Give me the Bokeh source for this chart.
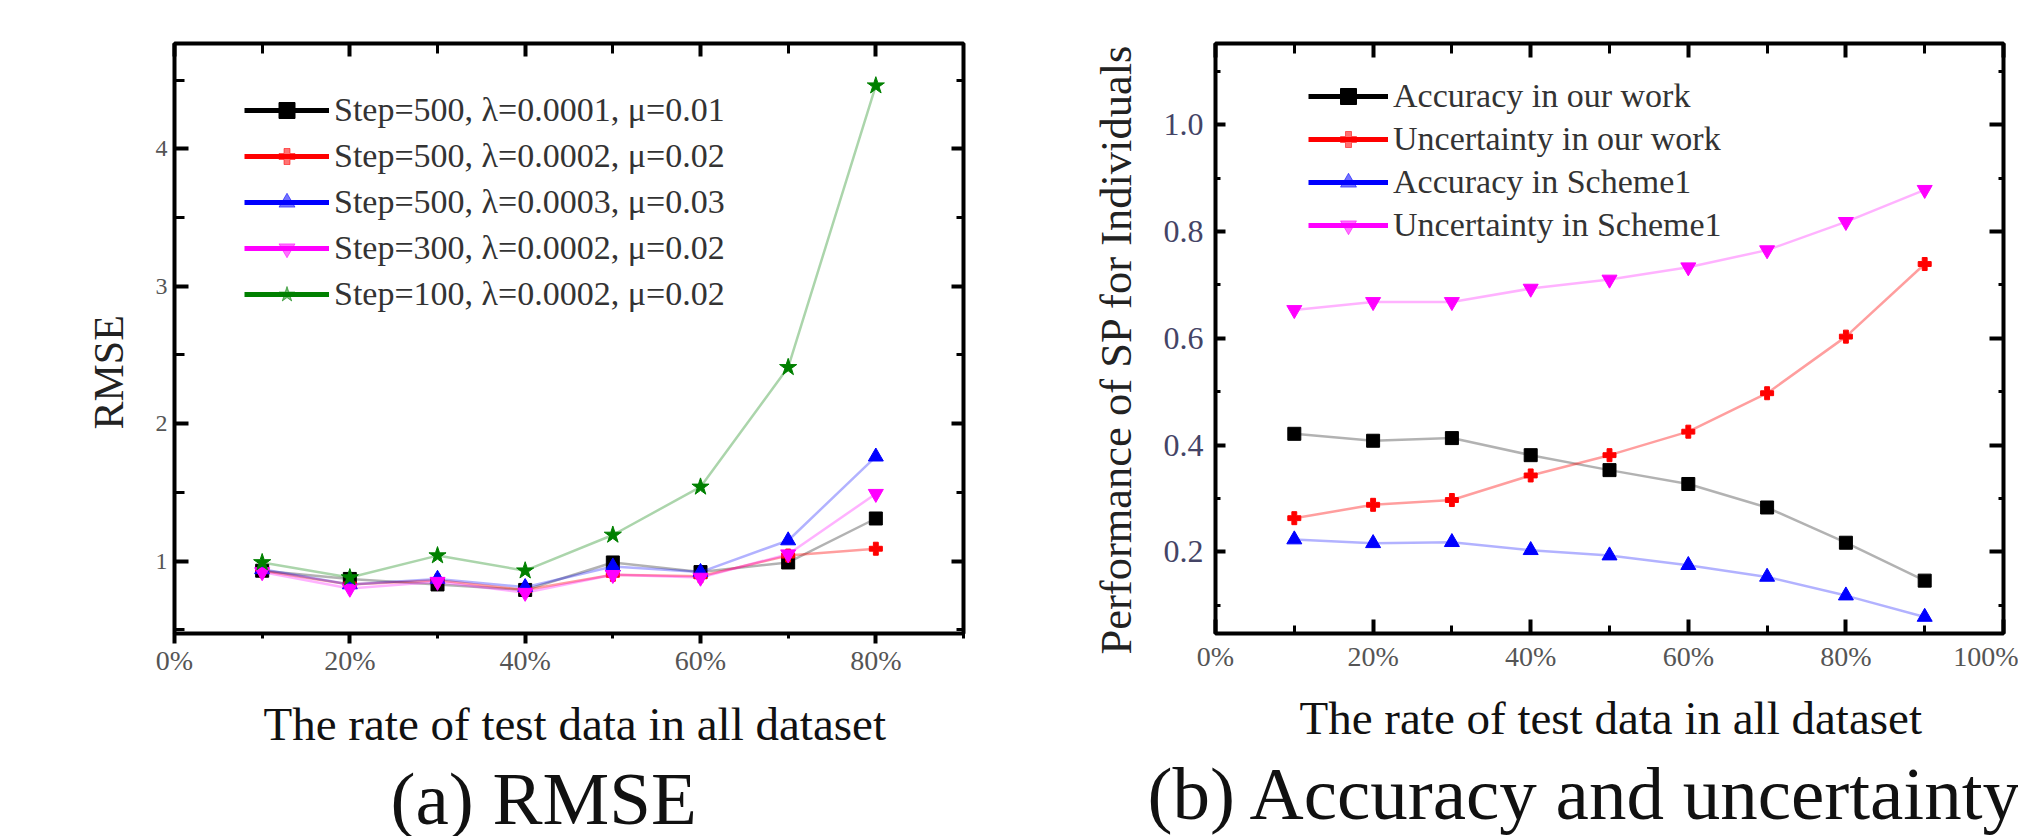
from bokeh.plotting import figure
from bokeh.models import (FixedTicker, NumeralTickFormatter, LinearAxis, Title,
                          Legend, LegendItem, Range1d)
from bokeh.layouts import row
from bokeh.embed import file_html
from bokeh.resources import INLINE

# ---------------- data: (a) RMSE ----------------
rate_a = [0.1, 0.2, 0.3, 0.4, 0.5, 0.6, 0.7, 0.8]
rmse_s500_l1 = [0.93, 0.87, 0.83, 0.79, 0.99, 0.92, 0.99, 1.31]
rmse_s500_l2 = [0.93, 0.83, 0.86, 0.79, 0.90, 0.89, 1.04, 1.09]
rmse_s500_l3 = [0.94, 0.83, 0.87, 0.81, 0.96, 0.92, 1.15, 1.76]
rmse_s300_l2 = [0.92, 0.80, 0.85, 0.77, 0.90, 0.88, 1.05, 1.49]
rmse_s100_l2 = [0.99, 0.88, 1.04, 0.93, 1.19, 1.54, 2.41, 4.46]
labels_a = ["Step=500, λ=0.0001, μ=0.01",
            "Step=500, λ=0.0002, μ=0.02",
            "Step=500, λ=0.0003, μ=0.03",
            "Step=300, λ=0.0002, μ=0.02",
            "Step=100, λ=0.0002, μ=0.02"]
xticks_a = [0.0, 0.2, 0.4, 0.6, 0.8]
xminor_a = [0.1, 0.3, 0.5, 0.7, 0.9]
yticks_a = [1, 2, 3, 4]
yminor_a = [0.5, 1.5, 2.5, 3.5, 4.5]

# ---------------- data: (b) accuracy / uncertainty ----------------
rate_b = [0.1, 0.2, 0.3, 0.4, 0.5, 0.6, 0.7, 0.8, 0.9]
acc_our = [0.421, 0.408, 0.413, 0.381, 0.353, 0.327, 0.283, 0.217, 0.146]
unc_our = [0.263, 0.288, 0.297, 0.343, 0.381, 0.425, 0.497, 0.603, 0.739]
acc_s1 = [0.223, 0.216, 0.218, 0.203, 0.193, 0.175, 0.153, 0.118, 0.078]
unc_s1 = [0.653, 0.668, 0.668, 0.693, 0.710, 0.733, 0.765, 0.818, 0.878]
labels_b = ["Accuracy in our work", "Uncertainty in our work",
            "Accuracy in Scheme1", "Uncertainty in Scheme1"]
xticks_b = [0.0, 0.2, 0.4, 0.6, 0.8, 1.0]
xminor_b = [0.1, 0.3, 0.5, 0.7, 0.9]
yticks_b = [0.2, 0.4, 0.6, 0.8, 1.0]
yminor_b = [0.1, 0.3, 0.5, 0.7, 0.9, 1.1]

xlabel = "The rate of  test data in all dataset"
ylabel_a = "RMSE"
ylabel_b = "Performance of SP for Individuals"
caption_a = "(a) RMSE"
caption_b = "(b) Accuracy and uncertainty"

SERIF = "Liberation Serif"
H = 836
TOP = 43
FRAME_H = 590

styles = [("black", "square", 13, 0.30),
          ("red", "plus", 13, 0.38),
          ("blue", "triangle", 15, 0.30),
          ("magenta", "inverted_triangle", 15, 0.30),
          ("green", "star", 18, 0.33)]


def style_axis(ax, ticks, minor, fmt, size, color, standoff, tin, tout, mtin, mtout, show=True):
    ax.ticker = FixedTicker(ticks=ticks, minor_ticks=minor)
    if fmt is not None:
        ax.formatter = fmt
    ax.axis_line_color = None
    ax.major_tick_in = tin
    ax.major_tick_out = tout
    ax.minor_tick_in = mtin
    ax.minor_tick_out = mtout
    ax.major_tick_line_width = 4
    ax.minor_tick_line_width = 3
    ax.major_tick_line_color = "black"
    ax.minor_tick_line_color = "black"
    ax.major_label_text_font = SERIF
    if show:
        ax.major_label_text_font_size = size
        ax.major_label_text_color = color
        ax.major_label_standoff = standoff
    else:
        ax.major_label_overrides = {t: "" for t in ticks}
        ax.major_label_text_font_size = "10px"
        ax.major_label_standoff = 0


def make_fig(width, bl, br, xr, yr):
    p = figure(width=width, height=H, x_range=Range1d(*xr), y_range=Range1d(*yr),
               min_border_left=bl, min_border_right=br, min_border_top=TOP,
               min_border_bottom=H - TOP - FRAME_H,
               output_backend="svg", toolbar_location=None)
    p.grid.visible = False
    p.outline_line_color = "black"
    p.outline_line_width = 4
    p.background_fill_color = "white"
    p.border_fill_color = "white"
    p.extra_y_ranges = {"hidden": Range1d(1000, 1001)}
    return p


def add_titles(p, ylab, ylab_size, ylab_off, ylab_standoff, xlab_off, xlab_standoff,
               cap, cap_off, cap_standoff):
    p.add_layout(Title(text=ylab, align="left", offset=ylab_off, vertical_align="top",
                       standoff=ylab_standoff, text_font=SERIF, text_font_size=ylab_size,
                       text_font_style="normal", text_color="#222222"), "left")
    p.add_layout(Title(text=xlabel, align="left", offset=xlab_off, vertical_align="bottom",
                       standoff=xlab_standoff, text_font=SERIF, text_font_size="47px",
                       text_font_style="normal", text_color="#111111"), "below")
    t = Title(text=cap, align="left", offset=cap_off, vertical_align="top",
              text_font=SERIF, text_font_size="75px", text_font_style="normal",
              text_color="#111111")
    try:
        t.standoff = cap_standoff
    except Exception:
        t.standoff = 0
    p.add_layout(t, "below")


def add_series(p, xs, series, labels, stys, loc, gw, spacing):
    items = []
    for ys, lab, (c, m, s, la) in zip(series, labels, stys):
        p.line(xs, ys, line_color=c, line_width=2.5, line_alpha=la)
        p.scatter(xs, ys, marker=m, size=s, fill_color=c, line_color=c)
        # legend-only glyphs (drawn on an off-screen range)
        lr = p.line(xs, ys, line_color=c, line_width=5, y_range_name="hidden")
        a = 1.0 if c == "black" else 0.55
        sr = p.scatter(xs, ys, marker=m, size=s, fill_color=c, line_color=c,
                       fill_alpha=a, line_alpha=a, y_range_name="hidden")
        items.append(LegendItem(label=lab, renderers=[lr, sr]))
    leg = Legend(items=items, location=loc, margin=0, padding=0,
                 glyph_width=gw, glyph_height=40, label_height=40, spacing=spacing,
                 label_standoff=5, label_text_font=SERIF, label_text_font_size="34px",
                 label_text_color="#333333", background_fill_alpha=0,
                 border_line_color=None)
    p.add_layout(leg, "center")


# ---------------- (a) ----------------
pa = make_fig(1000, 174, 37, (0.0, 0.9), (0.473, 4.767))
style_axis(pa.xaxis[0], xticks_a, xminor_a, NumeralTickFormatter(format="0%"),
           "28px", "#555555", 1, 0, 10, 0, 5)
style_axis(pa.yaxis[0], yticks_a, yminor_a, None, "24px", "#555555", 7, 14, 0, 10, 0)
top_a = LinearAxis()
style_axis(top_a, xticks_a, xminor_a, None, "", "", 0, 13, 0, 10, 0, show=False)
pa.add_layout(top_a, "above")
right_a = LinearAxis()
style_axis(right_a, yticks_a, yminor_a, None, "", "", 0, 12, 0, 7, 0, show=False)
pa.add_layout(right_a, "right")
add_series(pa, rate_a, [rmse_s500_l1, rmse_s500_l2, rmse_s500_l3, rmse_s300_l2, rmse_s100_l2],
           labels_a, styles, (70, 319), 85, 6)
add_titles(pa, ylabel_a, "42px", 204, 38, 89, 34, caption_a, 216, -20)

# ---------------- (b) ----------------
pb = make_fig(1018, 215, 15, (0.0, 1.0), (0.047, 1.152))
style_axis(pb.xaxis[0], xticks_b, xminor_b, NumeralTickFormatter(format="0%"),
           "28px", "#555555", 7, 14, 0, 8, 0)
style_axis(pb.yaxis[0], yticks_b, yminor_b, NumeralTickFormatter(format="0.0"),
           "32px", "#444466", 12, 10, 0, 5, 0)
top_b = LinearAxis()
style_axis(top_b, xticks_b, xminor_b, None, "", "", 0, 14, 0, 10, 0, show=False)
pb.add_layout(top_b, "above")
right_b = LinearAxis()
style_axis(right_b, yticks_b, yminor_b, None, "", "", 0, 14, 0, 5, 0, show=False)
pb.add_layout(right_b, "right")
add_series(pb, rate_b, [acc_our, unc_our, acc_s1, unc_s1], labels_b, styles[:4],
           (93, 388), 80, 3)
add_titles(pb, ylabel_b, "44.5px", -21, 36, 84, 30, caption_b, -68, -14)

layout = row(pa, pb)
open("out.html", "w").write(file_html(layout, INLINE))
